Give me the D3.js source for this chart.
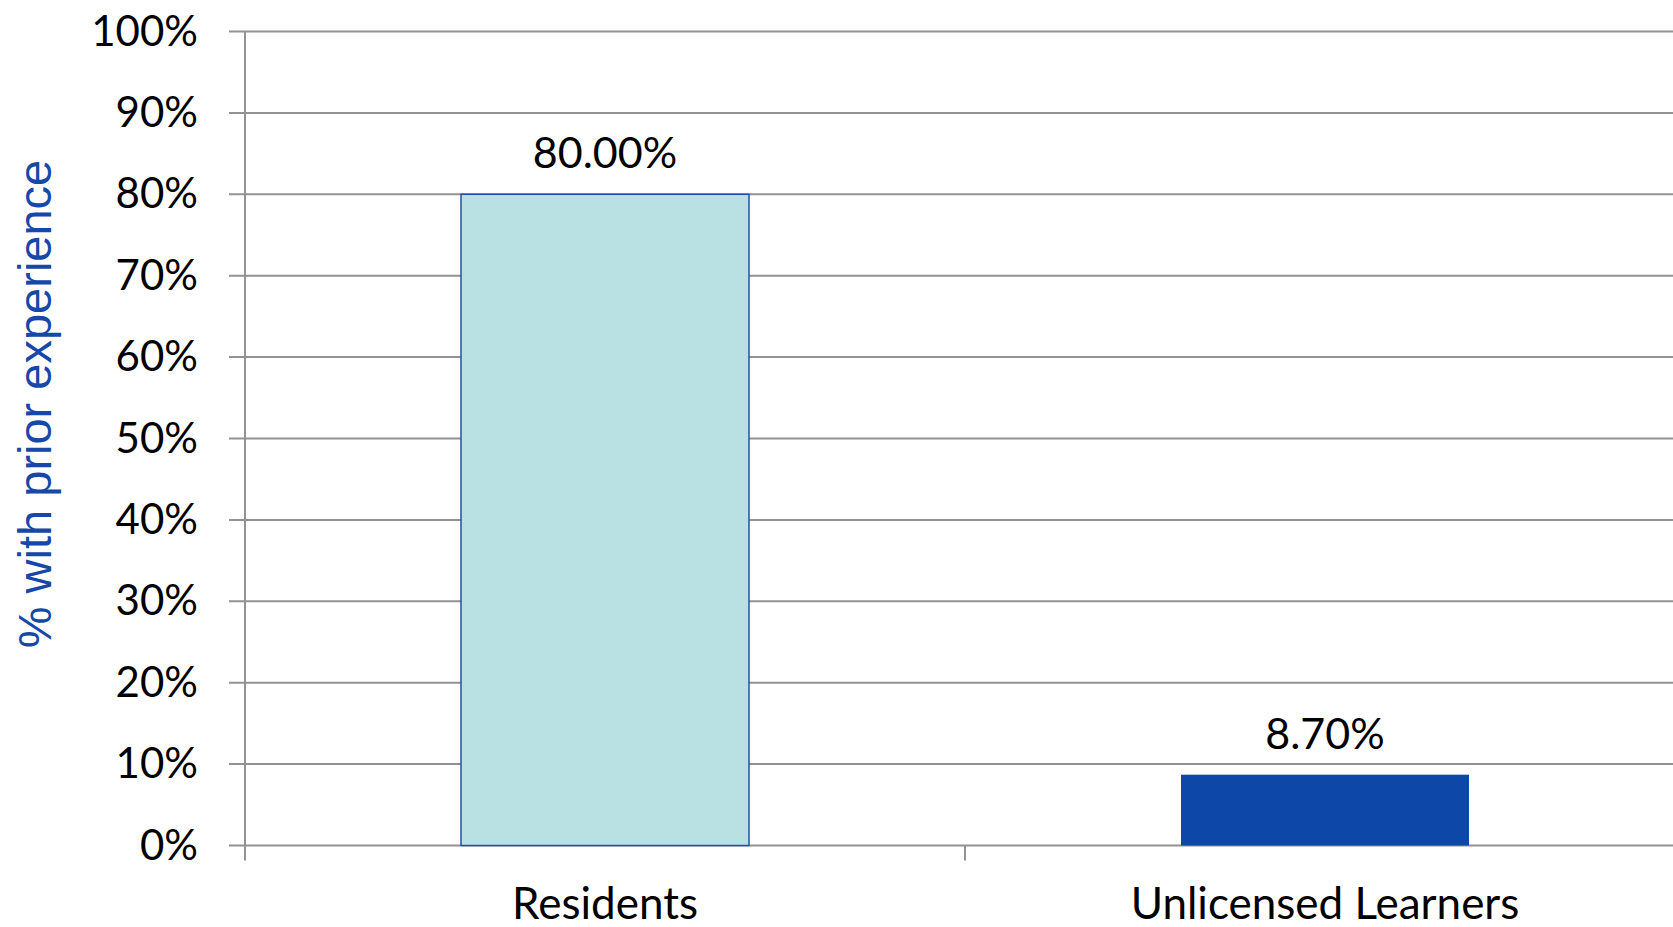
<!DOCTYPE html>
<html>
<head>
<meta charset="utf-8">
<script src="https://cdn.jsdelivr.net/npm/d3@7"></script>
<style>
  body { margin: 0; background: #fff; }
  svg { display: block; }
</style>
</head>
<body>
<div id="chart"></div>
<script>
// data
var categories = ["Residents", "Unlicensed Learners"];
var values = [0.80, 0.087];
var valueLabels = ["80.00%", "8.70%"];
var barColors = ["#b9e0e3", "#0d47a8"];
var yTicks = [0, 0.1, 0.2, 0.3, 0.4, 0.5, 0.6, 0.7, 0.8, 0.9, 1.0];

var W = 1673, H = 927;
var margin = { top: 31.5, right: -12, bottom: 81.5, left: 245 };

var svg = d3.select("#chart").append("svg")
    .attr("width", W)
    .attr("height", H);

var y = d3.scaleLinear()
    .domain([0, 1])
    .range([H - margin.bottom, margin.top]);

var x = d3.scaleBand()
    .domain(categories)
    .range([margin.left, W - margin.right])
    .paddingInner(0.6)
    .paddingOuter(0.3);

var step = x.step();
var gridColor = "#929292";

// gridlines + y ticks
svg.selectAll(".grid")
    .data(yTicks)
    .enter().append("line")
    .attr("x1", margin.left - 16)
    .attr("x2", W)
    .attr("y1", function(d){ return y(d); })
    .attr("y2", function(d){ return y(d); })
    .attr("stroke", gridColor)
    .attr("stroke-width", 2);

svg.selectAll(".ylabel")
    .data(yTicks)
    .enter().append("text")
    .attr("x", 198)
    .attr("y", function(d){ return y(d) + 14; })
    .attr("text-anchor", "end")
    .style("font-family", "Lato")
    .style("font-size", "42px")
    .attr("fill", "#000")
    .text(function(d){ return d3.format(".0%")(d); });

// y axis line
svg.append("line")
    .attr("x1", margin.left).attr("x2", margin.left)
    .attr("y1", y(1)).attr("y2", y(0) + 15)
    .attr("stroke", gridColor)
    .attr("stroke-width", 2);

// category ticks (between bands)
var catTicks = [margin.left + step, margin.left + 2 * step];
svg.selectAll(".ctick")
    .data(catTicks)
    .enter().append("line")
    .attr("x1", function(d){ return d; })
    .attr("x2", function(d){ return d; })
    .attr("y1", y(0))
    .attr("y2", y(0) + 15)
    .attr("stroke", gridColor)
    .attr("stroke-width", 2);

// bars
svg.selectAll(".bar")
    .data(values)
    .enter().append("rect")
    .attr("x", function(d, i){ return x(categories[i]); })
    .attr("y", function(d){ return y(d); })
    .attr("width", x.bandwidth())
    .attr("height", function(d){ return y(0) - y(d); })
    .attr("fill", function(d, i){ return barColors[i]; })
    .attr("stroke", function(d, i){ return i == 0 ? "#1f50b0" : "none"; })
    .attr("stroke-width", 1.5);

// value labels
svg.selectAll(".vlabel")
    .data(values)
    .enter().append("text")
    .attr("x", function(d, i){ return x(categories[i]) + x.bandwidth() / 2; })
    .attr("y", function(d){ return y(d) - 26; })
    .attr("text-anchor", "middle")
    .style("font-family", "Lato")
    .style("font-size", "43px")
    .attr("fill", "#000")
    .text(function(d, i){ return valueLabels[i]; });

// category labels
svg.selectAll(".clabel")
    .data(categories)
    .enter().append("text")
    .attr("x", function(d){ return x(d) + x.bandwidth() / 2; })
    .attr("y", 919)
    .attr("text-anchor", "middle")
    .style("font-family", "Lato")
    .style("font-size", "44px")
    .attr("fill", "#000")
    .text(function(d){ return d; });

// y axis title
svg.append("text")
    .attr("transform", "translate(51," + 404 + ") rotate(-90)")
    .attr("text-anchor", "middle")
    .style("font-family", "Liberation Sans")
    .style("font-size", "47px")
    .attr("fill", "#1548a8")
    .text("% with prior experience");
</script>
</body>
</html>
